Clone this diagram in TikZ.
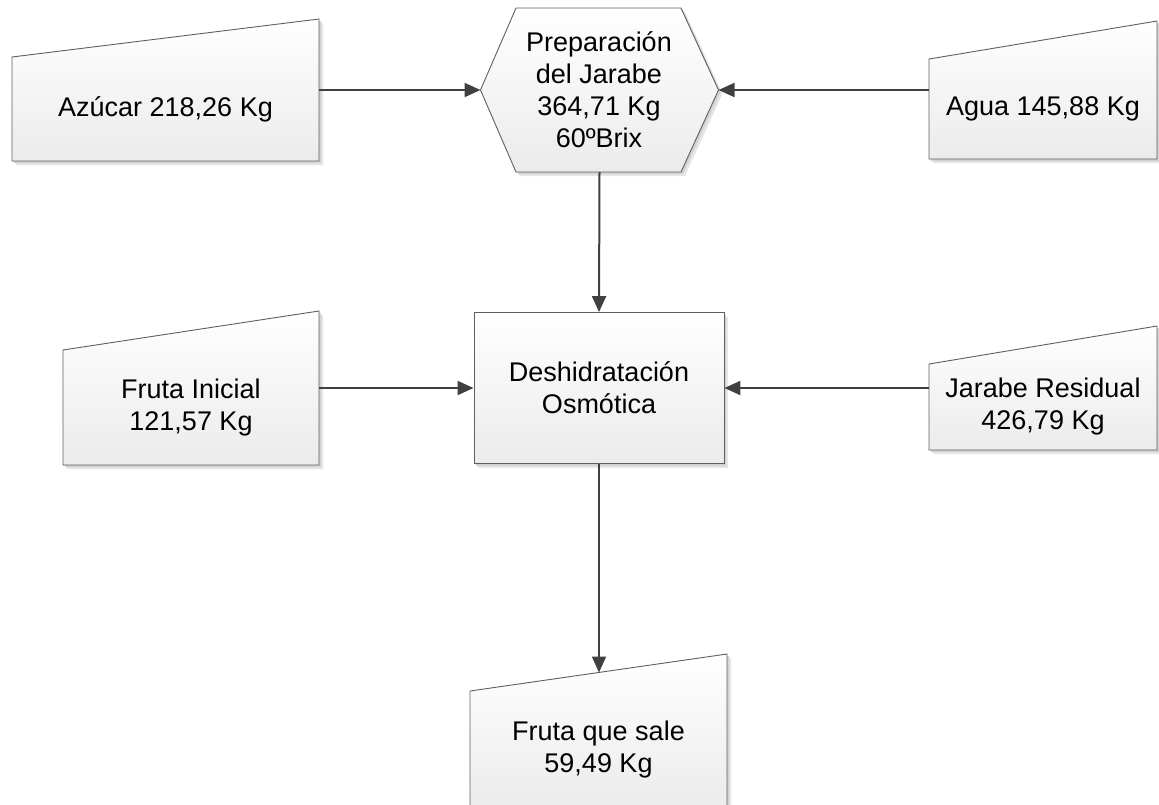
\documentclass[tikz,border=0pt]{standalone}
\usepackage{fontspec}
\setmainfont{Liberation Sans}
\usetikzlibrary{arrows.meta}

\definecolor{edgegray}{HTML}{5F5F5F}
\definecolor{flowgray}{HTML}{404040}
\definecolor{fillbot}{HTML}{EBEBEB}
\definecolor{shadowA}{HTML}{E6E6E6}
\definecolor{shadowB}{HTML}{D2D2D2}

\tikzset{
  shapeline/.style={draw=edgegray, line width=0.9pt, top color=white, bottom color=fillbot},
  txt/.style={font=\fontsize{27}{32}\selectfont, align=center, inner sep=0pt},
  anchorbox/.style={inner sep=0pt, outer sep=0pt, draw=none, rectangle},
  flow/.style={draw=flowgray, line width=2pt, -{Triangle[length=16pt,width=14pt]}},
}

% Manual-input slab: #1 name, #2 left x, #3 right x, #4 top-left y,
% #5 top-right y, #6 bottom y, #7 text
\newcommand\inputslab[7]{%
  \fill[shadowA] (#2+4,#4+4) -- (#3+4,#5+4) -- (#3+4,#6+4) -- (#2+4,#6+4) -- cycle;
  \fill[shadowB] (#2+2,#4+2) -- (#3+2,#5+2) -- (#3+2,#6+2) -- (#2+2,#6+2) -- cycle;
  \path[shapeline] (#2,#4) -- (#3,#5) -- (#3,#6) -- (#2,#6) -- cycle;
  \node[anchorbox, minimum width={(#3-#2)*1pt}, minimum height={(#6-#5)*1pt}]
    (#1) at ({(#2+#3)/2},{(#5+#6)/2}) {};
  \node[txt] (#1-text) at ({(#2+#3)/2},{(#4+#6)/2}) {#7};
}

\begin{document}
\begin{tikzpicture}[x=1pt,y=-1pt]
  \useasboundingbox (0,0) rectangle (1159,804);
  \clip (0,0) rectangle (1159,804);

  % raw materials
  \inputslab{azucar}{12}{319}{57}{19}{161}{Azúcar 218,26 Kg}
  \inputslab{agua}{929}{1157}{59}{21}{159}{Agua 145,88 Kg}
  \inputslab{fruta}{63}{319}{350}{311}{465}{Fruta Inicial\\121,57 Kg}
  \inputslab{residual}{929}{1157}{364}{326}{450}{Jarabe Residual\\426,79 Kg}
  \inputslab{salida}{470}{727}{691}{654}{808}{Fruta que sale\\59,49 Kg}

  % syrup preparation (hexagon)
  \fill[shadowA] (520,12) -- (685,12) -- (722.5,94) -- (685,176) -- (520,176) -- (484.5,94) -- cycle;
  \fill[shadowB] (518,10) -- (683,10) -- (720.5,92) -- (683,174) -- (518,174) -- (482.5,92) -- cycle;
  \path[shapeline] (516,8) -- (681,8) -- (718.5,90) -- (681,172) -- (516,172) -- (480.5,90) -- cycle;
  \node[anchorbox, minimum width=238pt, minimum height=164pt] (prep) at (599.5,90) {};
  \node[txt] (prep-text) at (599,90) {Preparación\\del Jarabe\\364,71 Kg\\60ºBrix};

  % osmotic dehydration
  \fill[shadowA] (478,316.5) rectangle (728,467.5);
  \fill[shadowB] (476,314.5) rectangle (726,465.5);
  \node[shapeline, rectangle, minimum width=250pt, minimum height=151pt,
        txt, inner sep=0pt] (proc) at (599,388) {Deshidratación\\Osmótica};

  % entry point on the slanted top of the output slab
  \coordinate (salida-in) at (599,672.5);

  % flows
  \draw[flow] (azucar.east) -- (prep.west);
  \draw[flow] (agua.west) -- (prep.east);
  \draw[flow] (prep.south) -- (proc.north);
  \draw[flow] (fruta.east) -- (proc.west);
  \draw[flow] (residual.west) -- (proc.east);
  \draw[flow] (proc.south) -- (salida-in);
\end{tikzpicture}
\end{document}
